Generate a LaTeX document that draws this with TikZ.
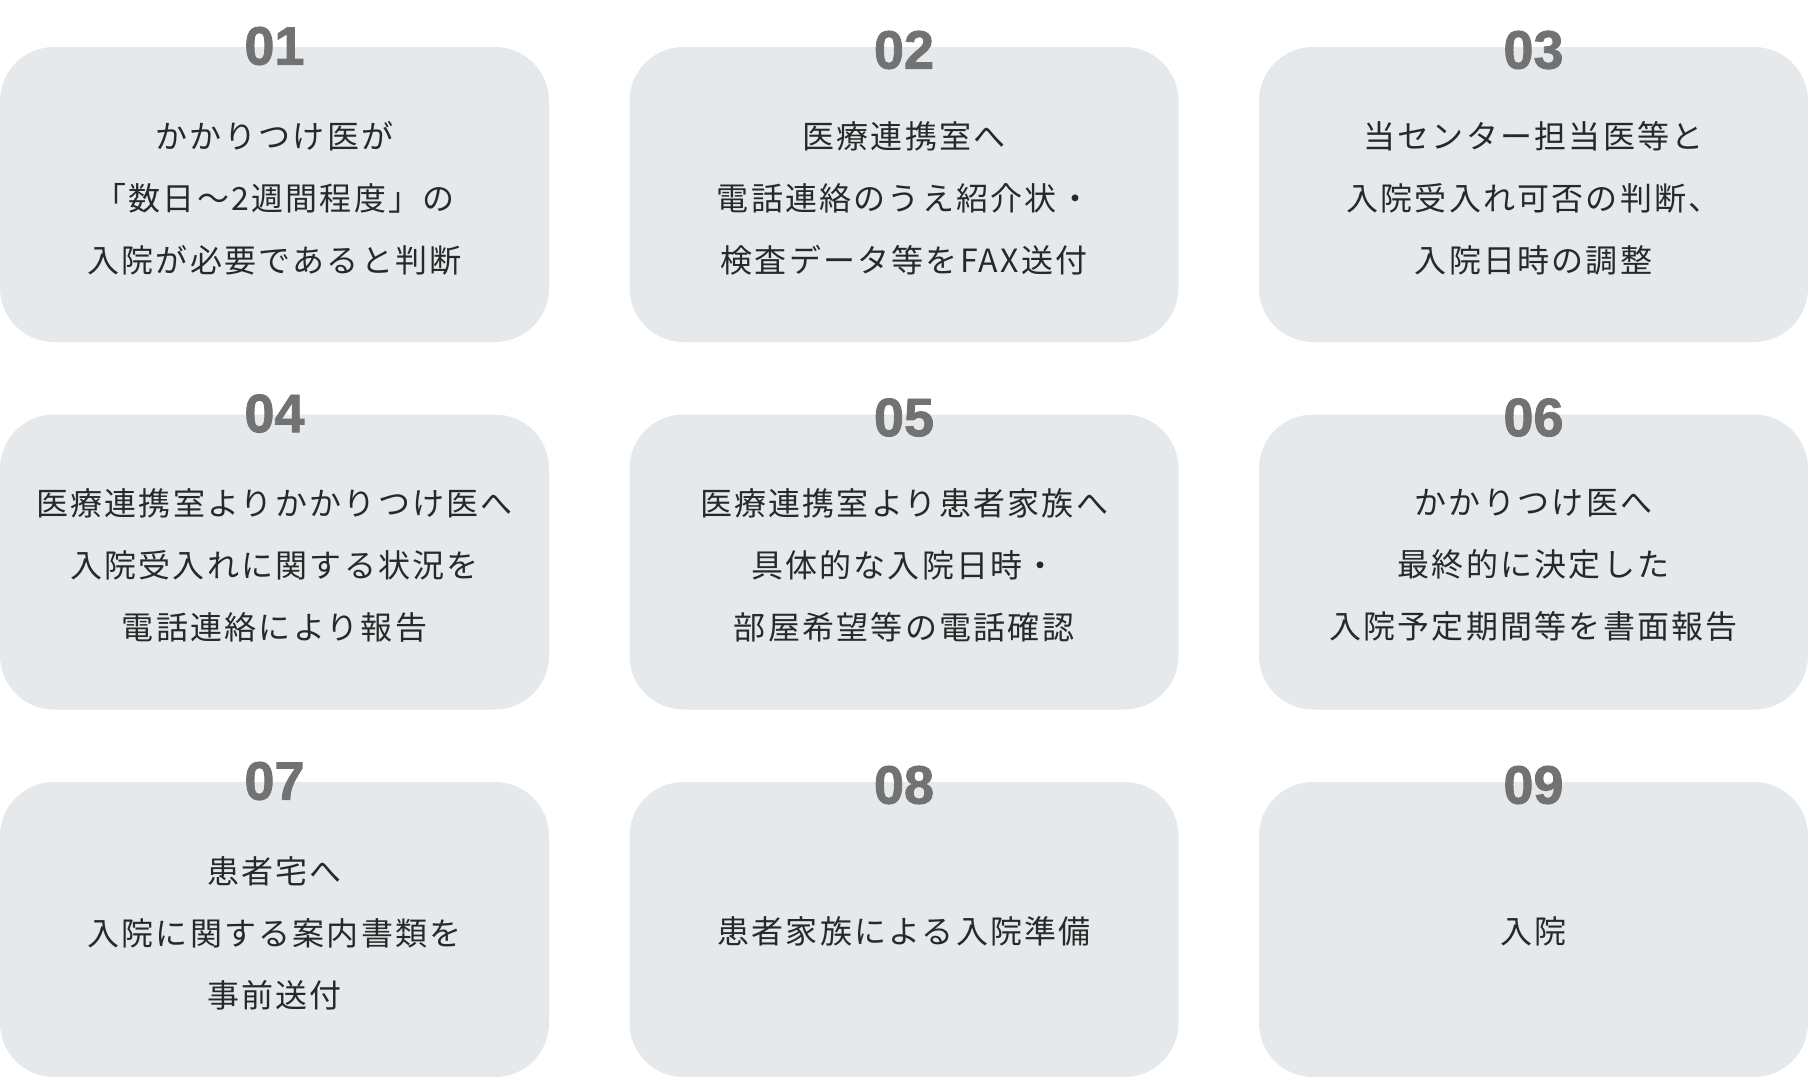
\documentclass[tikz,border=0pt]{standalone}
\usepackage{fontspec}
\usepackage{tikz}
\usetikzlibrary{positioning}
\newfontfamily\jpfont{Noto Sans CJK JP}[LetterSpace=7]
\newfontfamily\numfont{Liberation Sans}[BoldFeatures={FakeBold=1.6}]
\definecolor{fondgris}{RGB}{229,233,236}
\definecolor{numgris}{RGB}{114,114,114}
\definecolor{texte}{RGB}{40,40,40}

\begin{document}
\begin{tikzpicture}[x=0.5pt, y=-0.5pt,
	stepbox/.style={fill=fondgris, rounded corners=27pt, minimum width=274.5pt, minimum height=147.5pt,
		inner sep=0pt, outer sep=0pt},
	steptext/.style={align=center, inner sep=0pt, text=texte, font=\jpfont\fontsize{16}{31}\selectfont},
	stepnum/.style={text=numgris, inner sep=0pt, font=\numfont\bfseries\fontsize{27}{27}\selectfont}]
	\useasboundingbox (0,0) rectangle (1809,1077);
	% cadres
	\node[stepbox] (box01) at (274.5,194.5) {};
	\node[stepbox] (box02) at (904,194.5) {};
	\node[stepbox] (box03) at (1533.5,194.5) {};
	\node[stepbox] (box04) at (274.5,562) {};
	\node[stepbox] (box05) at (904,562) {};
	\node[stepbox] (box06) at (1533.5,562) {};
	\node[stepbox] (box07) at (274.5,929.5) {};
	\node[stepbox] (box08) at (904,929.5) {};
	\node[stepbox] (box09) at (1533.5,929.5) {};
	% textes
	\node[steptext] (txt01) at ([yshift=-1.75pt]box01.center) {かかりつけ医が\\「数日～2週間程度」の\\入院が必要であると判断};
	\node[steptext] (txt02) at ([yshift=-1.75pt]box02.center) {医療連携室へ\\電話連絡のうえ紹介状・\\検査データ等をFAX送付};
	\node[steptext] (txt03) at ([yshift=-1.75pt]box03.center) {当センター担当医等と\\入院受入れ可否の判断、\\入院日時の調整};
	\node[steptext] (txt04) at ([yshift=-1.75pt]box04.center) {医療連携室よりかかりつけ医へ\\入院受入れに関する状況を\\電話連絡により報告};
	\node[steptext] (txt05) at ([yshift=-1.75pt]box05.center) {医療連携室より患者家族へ\\具体的な入院日時・\\部屋希望等の電話確認};
	\node[steptext] (txt06) at ([yshift=-1.75pt]box06.center) {かかりつけ医へ\\最終的に決定した\\入院予定期間等を書面報告};
	\node[steptext] (txt07) at ([yshift=-1.75pt]box07.center) {患者宅へ\\入院に関する案内書類を\\事前送付};
	\node[steptext] (txt08) at ([yshift=-1pt]box08.center) {患者家族による入院準備};
	\node[steptext] (txt09) at ([yshift=-1pt]box09.center) {入院};
	% numeros
	\node[stepnum, yshift=0.5pt] (num01) at (box01.north) {01};
	\node[stepnum, yshift=-1.5pt] (num02) at (box02.north) {02};
	\node[stepnum, yshift=-1.5pt] (num03) at (box03.north) {03};
	\node[stepnum, yshift=0.5pt] (num04) at (box04.north) {04};
	\node[stepnum, yshift=-1.5pt] (num05) at (box05.north) {05};
	\node[stepnum, yshift=-1.5pt] (num06) at (box06.north) {06};
	\node[stepnum, yshift=0.5pt] (num07) at (box07.north) {07};
	\node[stepnum, yshift=-1.5pt] (num08) at (box08.north) {08};
	\node[stepnum, yshift=-1.5pt] (num09) at (box09.north) {09};
\end{tikzpicture}
\end{document}
